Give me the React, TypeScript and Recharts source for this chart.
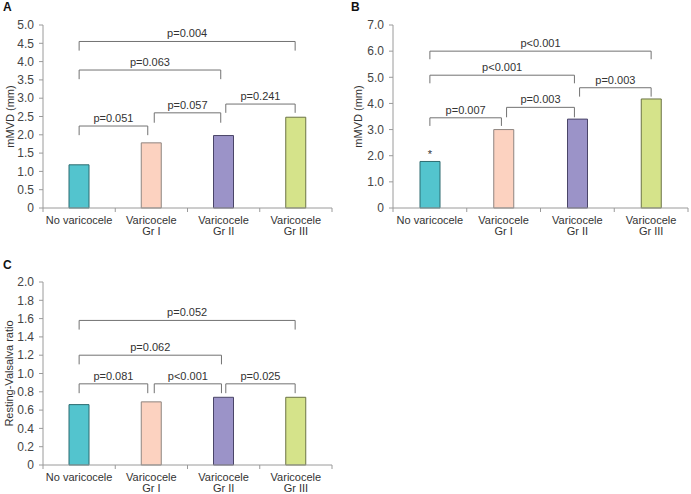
import { BarChart, Bar, XAxis, YAxis, Cell, ReferenceLine, LabelList } from 'recharts';

// category labels, split over two lines as in the figure
const categories = [['No varicocele'], ['Varicocele', 'Gr I'], ['Varicocele', 'Gr II'], ['Varicocele', 'Gr III']];
const catPos = [0.5, 1.5, 2.5, 3.5];

const mvdA = [1.18, 1.78, 1.98, 2.48];
const mvdB = [1.78, 3.0, 3.4, 4.17];
const ratioC = [0.66, 0.69, 0.74, 0.74];
const marksB = ['*', '', '', ''];

const ticksA = [0, 0.5, 1, 1.5, 2, 2.5, 3, 3.5, 4, 4.5, 5];
const ticksB = [0, 1, 2, 3, 4, 5, 6, 7];
const ticksC = [0, 0.2, 0.4, 0.6, 0.8, 1, 1.2, 1.4, 1.6, 1.8, 2];
const xTicks = [0, 0.5, 1, 1.5, 2, 2.5, 3, 3.5, 4];

const fills = ['#53c4ce', '#fcd2c0', '#9b93c8', '#d5e38a'];
const strokes = ['#2c6b70', '#8e8580', '#4a4568', '#6b7344'];

interface Bracket {
  x1: number;
  x2: number;
  y: number;
  y0: number;
  p: string;
}

// significance brackets (x in category units, y in value units)
const bracketsA: Bracket[] = [
  { x1: 0.5, x2: 3.49, y: 4.55, y0: 4.3, p: 'p=0.004' },
  { x1: 0.5, x2: 2.46, y: 3.77, y0: 3.52, p: 'p=0.063' },
  { x1: 0.5, x2: 1.45, y: 2.24, y0: 1.99, p: 'p=0.051' },
  { x1: 1.54, x2: 2.46, y: 2.6, y0: 2.33, p: 'p=0.057' },
  { x1: 2.53, x2: 3.49, y: 2.84, y0: 2.6, p: 'p=0.241' },
];
const bracketsB: Bracket[] = [
  { x1: 0.5, x2: 3.5, y: 6.0, y0: 5.69, p: 'p<0.001' },
  { x1: 0.5, x2: 2.46, y: 5.08, y0: 4.77, p: 'p<0.001' },
  { x1: 0.5, x2: 1.47, y: 3.45, y0: 3.14, p: 'p=0.007' },
  { x1: 1.54, x2: 2.46, y: 3.85, y0: 3.47, p: 'p=0.003' },
  { x1: 2.53, x2: 3.5, y: 4.6, y0: 4.26, p: 'p=0.003' },
];
const bracketsC: Bracket[] = [
  { x1: 0.5, x2: 3.49, y: 1.58, y0: 1.48, p: 'p=0.052' },
  { x1: 0.5, x2: 2.47, y: 1.2, y0: 1.1, p: 'p=0.062' },
  { x1: 0.5, x2: 1.45, y: 0.887, y0: 0.785, p: 'p=0.081' },
  { x1: 1.54, x2: 2.47, y: 0.887, y0: 0.785, p: 'p<0.001' },
  { x1: 2.53, x2: 3.49, y: 0.887, y0: 0.785, p: 'p=0.025' },
];

const FONT = '"Liberation Sans", Arial, sans-serif';
const AXIS = '#9a9a9a';
const BRACKET = '#727272';
const TEXT = '#333';

function makeCatTick(dy1: number, lineGap: number) {
  return function CatTick(props: any) {
    const { x, y, payload } = props;
    const v = payload.value as number;
    if (Number.isInteger(v)) {
      return <line x1={x} y1={y} x2={x} y2={y + 4} stroke={AXIS} />;
    }
    const lines = categories[Math.floor(v)];
    return (
      <text x={x} y={y} textAnchor="middle" fill={TEXT} fontSize={11} fontFamily={FONT}>
        {lines.map((l, i) => (
          <tspan key={i} x={x} dy={i === 0 ? dy1 : lineGap}>
            {l}
          </tspan>
        ))}
      </text>
    );
  };
}

function bracketLines(list: Bracket[]) {
  const out: any[] = [];
  list.forEach((b, i) => {
    out.push(
      <ReferenceLine
        key={`h${i}`}
        segment={[{ x: b.x1, y: b.y }, { x: b.x2, y: b.y }]}
        stroke={BRACKET}
        ifOverflow="visible"
        label={{ value: b.p, position: 'top', offset: 4, fill: TEXT, fontSize: 11, fontFamily: FONT }}
      />,
      <ReferenceLine key={`l${i}`} segment={[{ x: b.x1, y: b.y }, { x: b.x1, y: b.y0 }]} stroke={BRACKET} ifOverflow="visible" />,
      <ReferenceLine key={`r${i}`} segment={[{ x: b.x2, y: b.y }, { x: b.x2, y: b.y0 }]} stroke={BRACKET} ifOverflow="visible" />
    );
  });
  return out;
}

interface PanelProps {
  letter: string;
  left: number;
  top: number;
  width: number;
  height: number;
  margin: { top: number; right: number; left: number; bottom: number };
  yWidth: number;
  xHeight: number;
  values: number[];
  marks?: string[];
  yTicks: number[];
  yLabel: string;
  yLabelOffset: number;
  brackets: Bracket[];
  dy1: number;
  lineGap: number;
  letterY: number;
  letterX: number;
}

function Panel(p: PanelProps) {
  const data = p.values.map((v, i) => ({ x: catPos[i], v, mark: p.marks ? p.marks[i] : '' }));
  const yMax = p.yTicks[p.yTicks.length - 1];
  return (
    <div style={{ position: 'absolute', left: p.left, top: p.top, width: p.width, height: p.height }}>
      <div
        style={{
          position: 'absolute',
          left: p.letterX,
          top: p.letterY,
          fontFamily: FONT,
          fontWeight: 'bold',
          fontSize: 12,
          color: '#111',
          lineHeight: '12px',
        }}
      >
        {p.letter}
      </div>
      <BarChart width={p.width} height={p.height} data={data} margin={p.margin}>
        <XAxis
          type="number"
          dataKey="x"
          domain={[0, 4]}
          ticks={xTicks}
          interval={0}
          tickLine={false}
          tickSize={0}
          tickMargin={0}
          height={p.xHeight}
          axisLine={{ stroke: AXIS }}
          tick={makeCatTick(p.dy1, p.lineGap)}
        />
        <YAxis
          type="number"
          domain={[0, yMax]}
          ticks={p.yTicks}
          interval={0}
          width={p.yWidth}
          tickSize={4}
          tickMargin={5}
          axisLine={{ stroke: AXIS }}
          tickLine={{ stroke: AXIS }}
          tick={{ fill: '#444', fontSize: 12, fontFamily: FONT }}
          tickFormatter={(v: number) => (v === 0 ? '0' : v.toFixed(1))}
          label={{
            value: p.yLabel,
            angle: -90,
            position: 'insideLeft',
            offset: p.yLabelOffset,
            style: { textAnchor: 'middle' },
            fill: TEXT,
            fontSize: 11,
            fontFamily: FONT,
          }}
        />
        {bracketLines(p.brackets)}
        <Bar dataKey="v" barSize={20} isAnimationActive={false}>
          {data.map((_, i) => (
            <Cell key={i} fill={fills[i]} stroke={strokes[i]} strokeWidth={1} />
          ))}
          {p.marks ? (
            <LabelList dataKey="mark" position="top" offset={3} fill={TEXT} fontSize={11} fontFamily={FONT} />
          ) : null}
        </Bar>
      </BarChart>
    </div>
  );
}

export default function App() {
  return (
    <div style={{ position: 'fixed', left: 0, top: 0, width: 691, height: 494, background: '#fff' }}>
      <Panel
        letter="A"
        left={0}
        top={0}
        width={345}
        height={250}
        margin={{ top: 25, right: 13, left: 0, bottom: 0 }}
        yWidth={43}
        xHeight={42}
        values={mvdA}
        yTicks={ticksA}
        yLabel="mMVD (mm)"
        yLabelOffset={10}
        brackets={bracketsA}
        dy1={16}
        lineGap={11}
        letterX={3}
        letterY={1}
      />
      <Panel
        letter="B"
        left={345}
        top={0}
        width={346}
        height={250}
        margin={{ top: 25, right: 3, left: 0, bottom: 0 }}
        yWidth={48}
        xHeight={42}
        values={mvdB}
        marks={marksB}
        yTicks={ticksB}
        yLabel="mMVD (mm)"
        yLabelOffset={13}
        brackets={bracketsB}
        dy1={16}
        lineGap={11}
        letterX={6}
        letterY={1}
      />
      <Panel
        letter="C"
        left={0}
        top={250}
        width={345}
        height={244}
        margin={{ top: 32, right: 13, left: 0, bottom: 0 }}
        yWidth={43}
        xHeight={29}
        values={ratioC}
        yTicks={ticksC}
        yLabel="Resting-Valsalva ratio"
        yLabelOffset={9}
        brackets={bracketsC}
        dy1={16}
        lineGap={10.5}
        letterX={3}
        letterY={9}
      />
    </div>
  );
}
